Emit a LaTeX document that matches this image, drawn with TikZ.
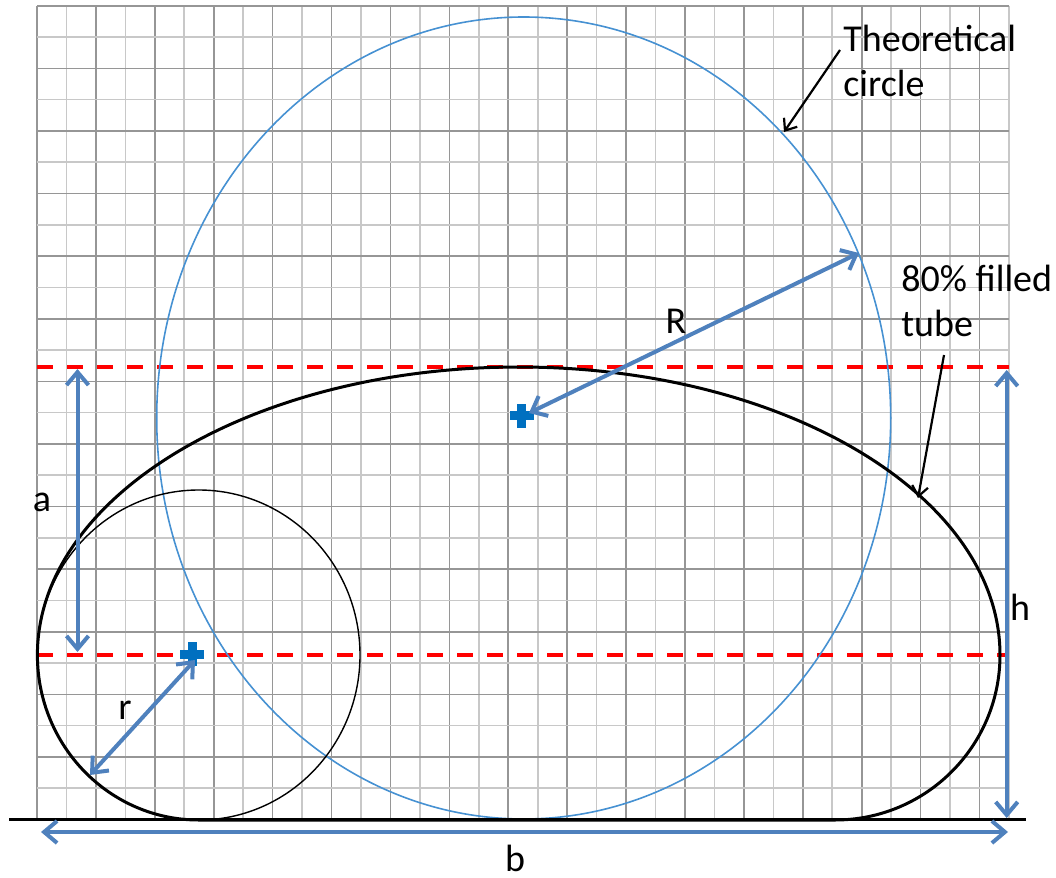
\documentclass[tikz,border=0pt]{standalone}
\usepackage{fontspec}
\setmainfont{Carlito}
\usetikzlibrary{arrows.meta}
\definecolor{gridlight}{RGB}{200,200,200}
\definecolor{griddark}{RGB}{150,150,150}
\definecolor{arrowblue}{RGB}{79,129,189}
\definecolor{circleblue}{RGB}{70,145,210}
\definecolor{crossblue}{RGB}{0,112,192}
\tikzset{
  blarrow/.style={draw=arrowblue, line width=2pt,
    {Straight Barb[length=6.5pt,width=11pt]}-{Straight Barb[length=6.5pt,width=11pt]}},
  pointer/.style={draw=black, line width=1.1pt, -{Straight Barb[length=5pt,width=8pt]}},
  reddash/.style={draw=red, line width=2pt, dash pattern=on 8pt off 7pt},
  lbl/.style={inner sep=0pt, text=black},
  pics/plusmark/.style={code={
    \fill[crossblue] (-12,-4.5) rectangle (12,4.5);
    \fill[crossblue] (-4.5,-12) rectangle (4.5,12);
  }}
}
\begin{document}
\begin{tikzpicture}[x=0.5pt, y=-0.5pt, font=\fontsize{19}{22.5}\selectfont]
\useasboundingbox (0,0) rectangle (1056,878);
% grid
\foreach \i in {0,...,33}{
  \pgfmathsetmacro\xx{37+29.455*\i}
  \ifodd\i
    \draw[gridlight, line width=0.8pt] (\xx,5.7) -- (\xx,819.5);
  \else
    \draw[griddark, line width=0.8pt] (\xx,5.7) -- (\xx,819.5);
  \fi
}
\foreach \j in {0,...,26}{
  \pgfmathsetmacro\yy{5.7+31.3*\j}
  \ifodd\j
    \draw[gridlight, line width=0.8pt] (37,\yy) -- (1009,\yy);
  \else
    \draw[griddark, line width=0.8pt] (37,\yy) -- (1009,\yy);
  \fi
}
% red dashed levels
\coordinate (topL) at (37,367);
\coordinate (topR) at (1009,367);
\coordinate (midL) at (37,655);
\coordinate (midR) at (1009,655);
\draw[reddash] (topL) -- (topR);
\draw[reddash] (midL) -- (midR);
% theoretical circle
\draw[circleblue, line width=0.8pt] (523.7,418) ellipse [x radius=367, y radius=401];
% small circle
\draw[black, line width=0.7pt] (198.7,655) ellipse [x radius=161.3, y radius=165];
% tube
\draw[black, line width=1.5pt] (37.4,655)
  arc[start angle=180, end angle=360, x radius=481.3, y radius=288]
  arc[start angle=0, end angle=90, x radius=165, y radius=165]
  -- (198.7,820)
  arc[start angle=90, end angle=180, x radius=161.3, y radius=165] -- cycle;
% baseline
\coordinate (baseL) at (9,819.5);
\coordinate (baseR) at (1026,819.5);
\draw[black, line width=1.5pt] (baseL) -- (baseR);
% crosses
\coordinate (Rc) at (521.7,415.5);
\coordinate (rc) at (192,654);
\pic at (Rc) {plusmark};
\pic at (rc) {plusmark};
% dimension arrows
\coordinate (aTop) at (77.5,369);
\coordinate (aBot) at (77.5,652);
\draw[blarrow] (aTop) -- (aBot);
\coordinate (hTop) at (1006.7,370);
\coordinate (hBot) at (1006.7,818);
\draw[blarrow] (hTop) -- (hBot);
\coordinate (bL) at (41,832);
\coordinate (bR) at (1008,832);
\draw[blarrow] (bL) -- (bR);
\coordinate (Rtip) at (529,413);
\coordinate (Rend) at (859,253);
\draw[blarrow] (Rtip) -- (Rend);
\coordinate (rtip) at (195,660);
\coordinate (rend) at (90,775);
\draw[blarrow] (rtip) -- (rend);
% labels
\node[lbl] (la) at (42,502) {a};
\node[lbl] (lh) at (1020,607) {h};
\node[lbl] (lb) at (515,858) {b};
\node[lbl] (lR) at (676,321) {R};
\node[lbl] (lr) at (125,710) {r};
\node[lbl, anchor=north west, align=left] (theo) at (843,25) {Theoretical\\circle};
\node[lbl, anchor=north west, align=left] (tube) at (901,265) {80\% filled\\tube};
% pointers
\coordinate (theoTip) at (784,132);
\coordinate (tubeTip) at (918,498);
\draw[pointer] (840,50) coordinate (theoStart) -- (theoTip);
\draw[pointer] (944,355) coordinate (tubeStart) -- (tubeTip);
\end{tikzpicture}
\end{document}
